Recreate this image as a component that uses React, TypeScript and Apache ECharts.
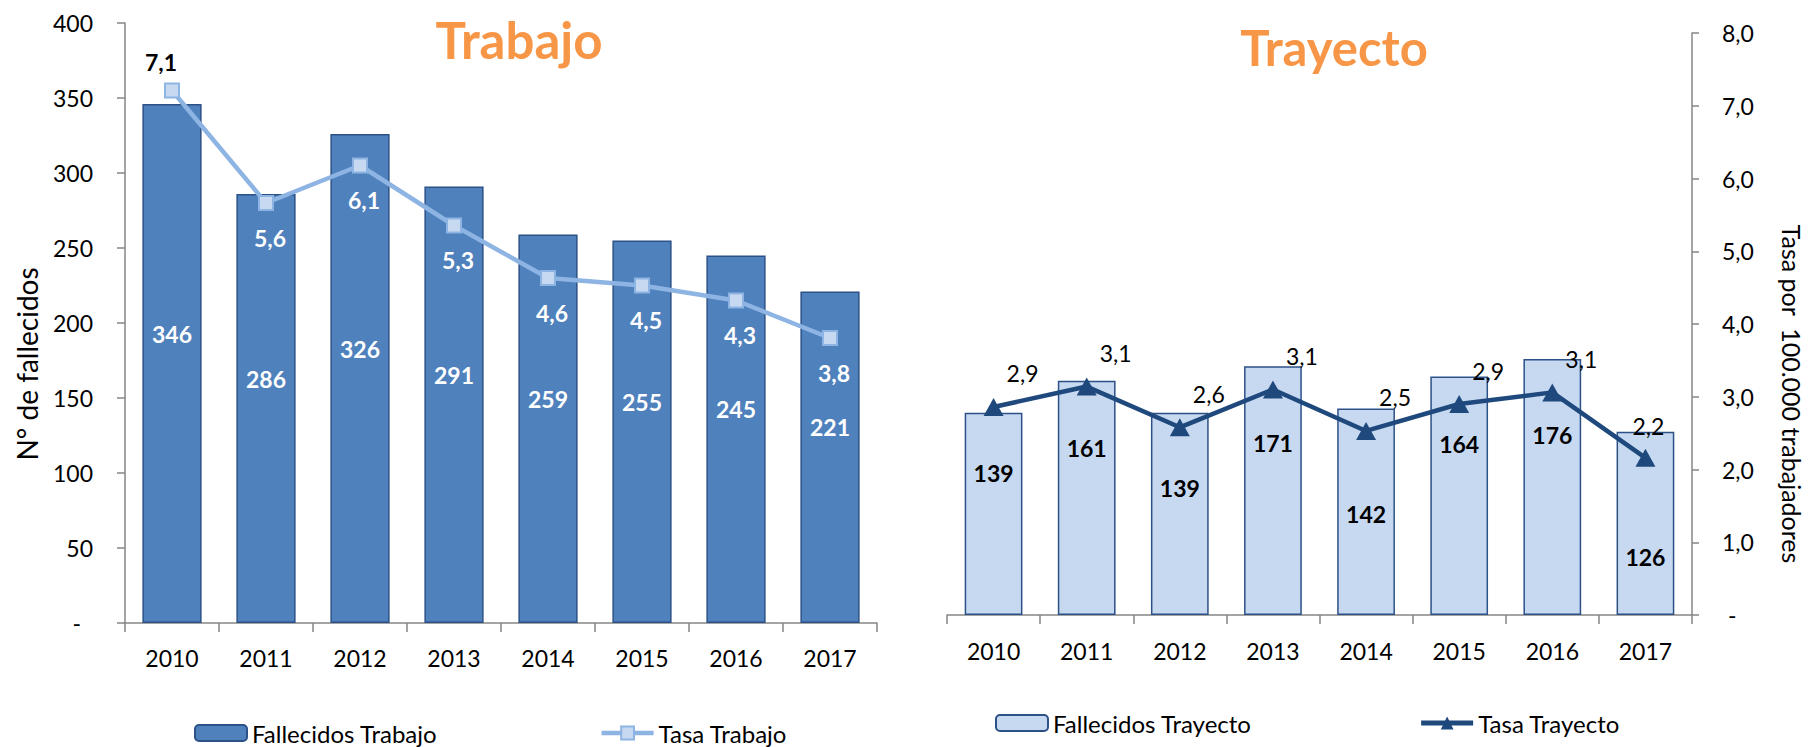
import React, { useEffect, useRef } from "react";
import * as echarts from "echarts";

const years = ["2010", "2011", "2012", "2013", "2014", "2015", "2016", "2017"];
const fallecidosTrabajo = [346, 286, 326, 291, 259, 255, 245, 221];
const tasaTrabajo = [7.1, 5.6, 6.1, 5.3, 4.6, 4.5, 4.3, 3.8];
const fallecidosTrayecto = [139, 161, 139, 171, 142, 164, 176, 126];
const tasaTrayecto = [2.86, 3.14, 2.58, 3.1, 2.53, 2.9, 3.06, 2.16];

// label placement tweaks (style only)
const trayectoLabelShift = [-41, -50, -26, -48, 2, -52, -52, 34];

const FONT = "Lato";
const fmtRate = (v: number) => v.toFixed(1).replace(".", ",");

export default function App() {
  const ref = useRef<HTMLDivElement>(null);
  useEffect(() => {
    if (!ref.current) return;
    const chart = echarts.init(ref.current, undefined, { renderer: "svg" });
    const axisColor = "#868686";
    const xAxisBase = (gridIndex: number, margin: number) => ({
      type: "category",
      gridIndex,
      data: years,
      axisLine: { show: true, lineStyle: { color: axisColor, width: 1.5 } },
      axisTick: { show: true, length: 9, lineStyle: { color: axisColor, width: 1.5 } },
      axisLabel: { color: "#000", fontSize: 23, margin, fontFamily: FONT },
      splitLine: { show: false },
    });
    const legendText = { fontSize: 24, color: "#000", fontFamily: FONT };
    chart.setOption({
      animation: false,
      textStyle: { fontFamily: FONT },
      grid: [
        { left: 125, right: 931, top: 23, bottom: 124 },
        { left: 947, right: 116, top: 33, bottom: 132 },
      ],
      xAxis: [xAxisBase(0, 23), xAxisBase(1, 24)],
      yAxis: [
        {
          type: "value",
          gridIndex: 0,
          min: 0,
          max: 400,
          interval: 50,
          axisLine: { show: true, lineStyle: { color: axisColor, width: 1.5 } },
          axisTick: { show: true, length: 8, lineStyle: { color: axisColor, width: 1.5 } },
          splitLine: { show: false },
          axisLabel: {
            color: "#000",
            fontSize: 23,
            margin: 32,
            fontFamily: FONT,
            formatter: (v: number) => (v === 0 ? "{d|-}" : String(v)),
            rich: { d: { fontSize: 23, fontFamily: FONT, color: "#000", padding: [0, 12, 0, 0] } },
          },
        },
        { type: "value", gridIndex: 0, min: 0, max: 8, show: false, position: "right" },
        { type: "value", gridIndex: 1, min: 0, max: 400, show: false, position: "left" },
        {
          type: "value",
          gridIndex: 1,
          min: 0,
          max: 8,
          interval: 1,
          position: "right",
          axisLine: { show: true, lineStyle: { color: axisColor, width: 1.5 } },
          axisTick: { show: true, length: 7, lineStyle: { color: axisColor, width: 1.5 } },
          splitLine: { show: false },
          axisLabel: {
            color: "#000",
            fontSize: 23,
            margin: 30,
            fontFamily: FONT,
            formatter: (v: number) => (v === 0 ? " -" : fmtRate(v)),
          },
        },
      ],
      legend: [
        {
          data: [
            { name: "Fallecidos Trabajo" },
            { name: "Tasa Trabajo", lineStyle: { width: 4.5 } },
          ],
          left: 194,
          top: 721,
          padding: 0,
          itemWidth: 52,
          itemHeight: 16,
          itemGap: 162,
          textStyle: legendText,
        },
        {
          data: [
            { name: "Fallecidos Trayecto" },
            { name: "Tasa Trayecto", lineStyle: { width: 5 } },
          ],
          left: 995,
          top: 711,
          padding: 0,
          itemWidth: 52,
          itemHeight: 16,
          itemGap: 167,
          textStyle: legendText,
        },
      ],
      graphic: [
        {
          type: "text",
          x: 519,
          y: 39,
          style: {
            text: "Trabajo",
            fill: "#F79646",
            fontSize: 51,
            fontWeight: "bold",
            fontFamily: FONT,
            align: "center",
            verticalAlign: "middle",
          },
        },
        {
          type: "text",
          x: 1334,
          y: 47,
          style: {
            text: "Trayecto",
            fill: "#F79646",
            fontSize: 49,
            fontWeight: "bold",
            fontFamily: FONT,
            align: "center",
            verticalAlign: "middle",
          },
        },
        {
          type: "text",
          x: 27,
          y: 364,
          rotation: Math.PI / 2,
          style: {
            text: "N° de fallecidos",
            fill: "#000",
            fontSize: 28,
            fontFamily: FONT,
            align: "center",
            verticalAlign: "middle",
          },
        },
        {
          type: "text",
          x: 1792,
          y: 394,
          rotation: -Math.PI / 2,
          style: {
            text: "Tasa por  100.000 trabajadores",
            fill: "#000",
            fontSize: 25,
            fontFamily: FONT,
            align: "center",
            verticalAlign: "middle",
          },
        },
      ],
      series: [
        {
          name: "Fallecidos Trabajo",
          type: "bar",
          xAxisIndex: 0,
          yAxisIndex: 0,
          barWidth: "63%",
          data: fallecidosTrabajo,
          itemStyle: { color: "#4F81BD", borderColor: "#2C5187", borderWidth: 1.5 },
          label: {
            show: true,
            position: "inside",
            offset: [0, -30],
            color: "#fff",
            fontWeight: "bold",
            fontSize: 23,
            fontFamily: FONT,
          },
          z: 2,
        },
        {
          name: "Tasa Trabajo",
          type: "line",
          xAxisIndex: 0,
          yAxisIndex: 1,
          data: tasaTrabajo.map((v, i) =>
            i === 0
              ? { value: v, label: { position: "top", color: "#000", offset: [-11, -4] } }
              : v
          ),
          symbol: "rect",
          symbolSize: 14,
          lineStyle: { color: "#8DB4E2", width: 4.5 },
          itemStyle: { color: "#C6D9F1", borderColor: "#8DB4E2", borderWidth: 2 },
          label: {
            show: true,
            position: "bottom",
            offset: [4, 10],
            color: "#fff",
            fontWeight: "bold",
            fontSize: 23,
            fontFamily: FONT,
            formatter: (p: any) => fmtRate(p.value),
          },
          z: 3,
        },
        {
          name: "Fallecidos Trayecto",
          type: "bar",
          xAxisIndex: 1,
          yAxisIndex: 2,
          barWidth: "62%",
          data: fallecidosTrayecto.map((v, i) => ({
            value: v,
            label: { offset: [0, trayectoLabelShift[i]] },
          })),
          itemStyle: { color: "#C6D9F1", borderColor: "#2C5187", borderWidth: 1.5 },
          label: {
            show: true,
            position: "inside",
            color: "#000",
            fontWeight: "bold",
            fontSize: 23,
            fontFamily: FONT,
          },
          z: 2,
        },
        {
          name: "Tasa Trayecto",
          type: "line",
          xAxisIndex: 1,
          yAxisIndex: 3,
          data: tasaTrayecto.map((v, i) =>
            i === tasaTrayecto.length - 1 ? { value: v, label: { offset: [3, -6] } } : v
          ),
          symbol: "triangle",
          symbolSize: [20, 18],
          lineStyle: { color: "#1F497D", width: 4.5 },
          itemStyle: { color: "#1F497D" },
          label: {
            show: true,
            position: "top",
            offset: [29, -8],
            color: "#000",
            fontSize: 23,
            fontFamily: FONT,
            formatter: (p: any) => fmtRate(p.value),
          },
          z: 3,
        },
      ],
    });
    return () => chart.dispose();
  }, []);
  return (
    <div
      ref={ref}
      style={{ position: "fixed", left: 0, top: 0, width: 1808, height: 747, background: "#fff" }}
    />
  );
}
